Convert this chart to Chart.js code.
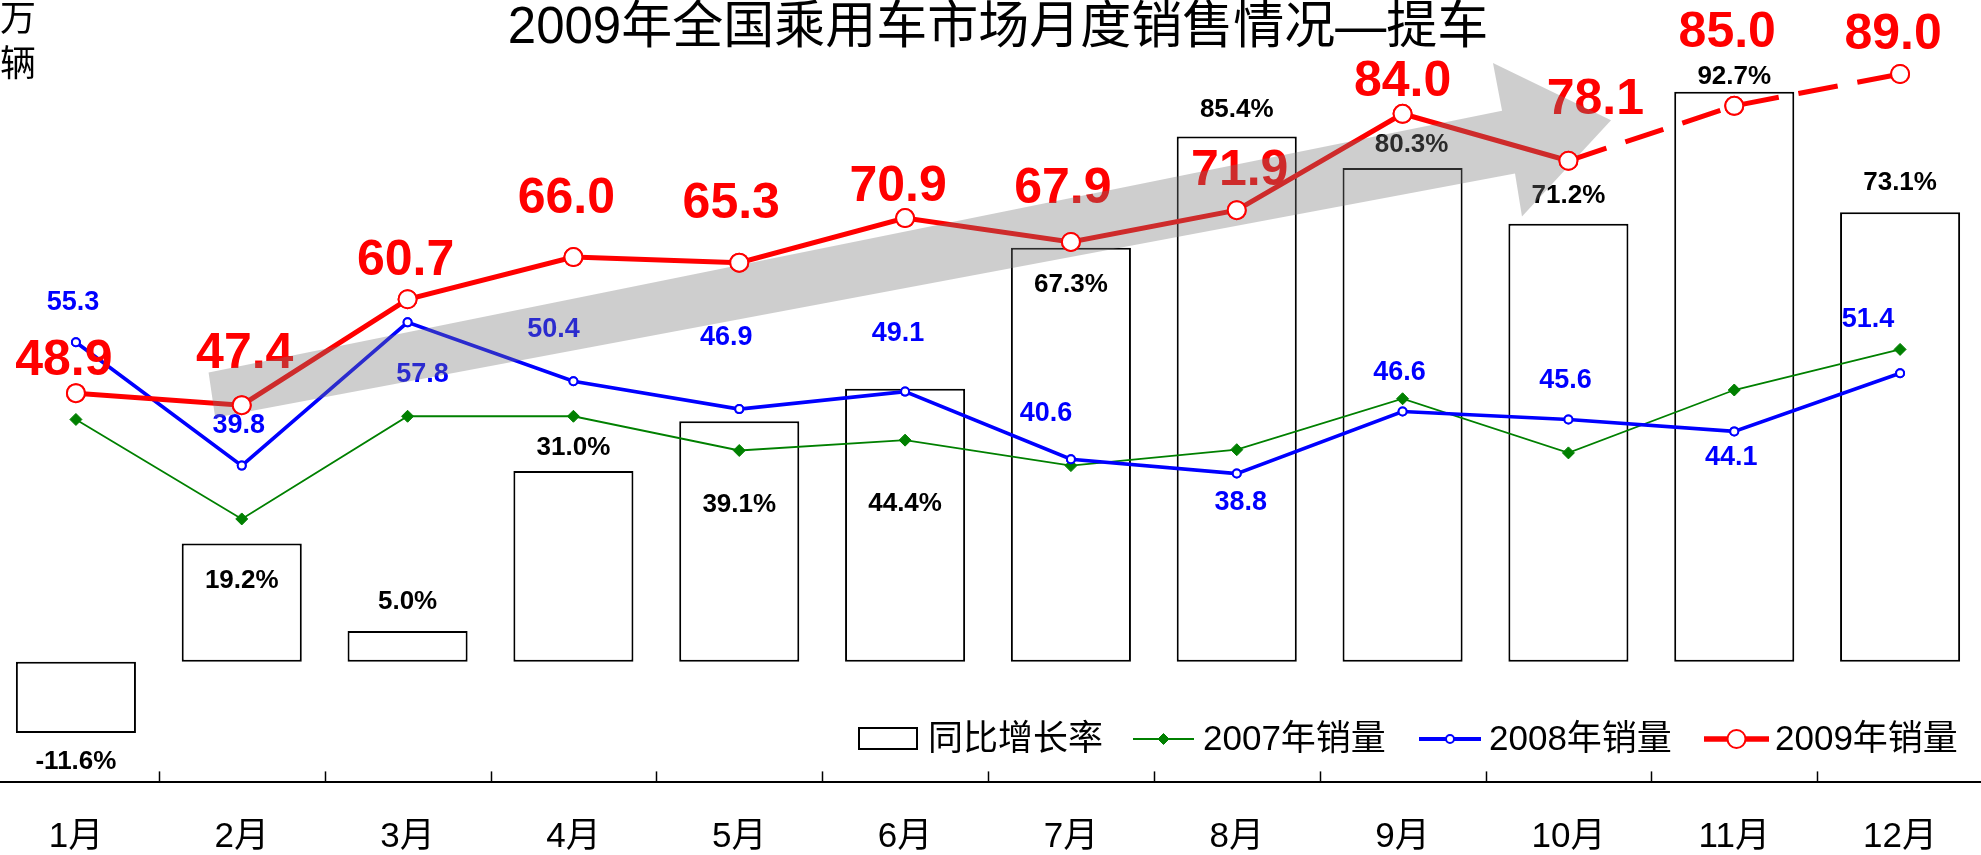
<!DOCTYPE html>
<html>
<head>
<meta charset="utf-8">
<title>2009年全国乘用车市场月度销售情况—提车</title>
<script src="https://cdn.jsdelivr.net/npm/chart.js@4.4.1/dist/chart.umd.min.js"></script>
<style>
  html, body { margin: 0; padding: 0; background: #fff; overflow: hidden; width: 1981px; height: 855px; }
  #chart { position: absolute; left: -7px; top: 0; }
</style>
</head>
<body>
<canvas id="chart" width="1990" height="855"></canvas>
<script>
var months = ['1月', '2月', '3月', '4月', '5月', '6月', '7月', '8月', '9月', '10月', '11月', '12月'];
var growthRate = [-11.6, 19.2, 5.0, 31.0, 39.1, 44.4, 67.3, 85.4, 80.3, 71.2, 92.7, 73.1];
var sales2007 = [45.6, 33.1, 46.0, 46.0, 41.7, 43.0, 39.8, 41.8, 48.2, 41.4, 49.3, 54.4];
var sales2008 = [55.3, 39.8, 57.8, 50.4, 46.9, 49.1, 40.6, 38.8, 46.6, 45.6, 44.1, 51.4];
var sales2009 = [48.9, 47.4, 60.7, 66.0, 65.3, 70.9, 67.9, 71.9, 84.0, 78.1, 85.0, 89.0];
var seriesNames = ['同比增长率', '2007年销量', '2008年销量', '2009年销量'];
var titleText = '2009年全国乘用车市场月度销售情况—提车';
var unitText = ['万', '辆'];

// where each value label sits relative to its mark (px)
var rateLabelDx = [0, 0, 0, 0, 0, 0, 0, 0, 9, 0, 0, 0];
var rateLabelDy = [29, 37, -29, -23, 84, 115, 37, -27, -23, -28, -15, -29];
var label2008Off = [[-3, -40], [-3, -40], [15, 52], [-20, -52], [-13, -72], [-7, -58], [-25, -46], [4, 29], [-3, -39], [-3, -39], [-3, 26], [-32, -54]];
var label2009Off = [[-12, -32], [3, -51], [-2, -38], [-7, -58], [-8, -58], [-7, -31], [-8, -53], [3, -39], [0, -32], [27, -61], [-7, -73], [-7, -39]];

// trend arrow outline in (category index, sales value)
var arrowShape = [[0.80, 51.5], [8.60, 84.4], [8.545, 90.4], [9.257, 83.2], [8.72, 71.1], [8.678, 76.5], [0.84, 45.8]];

var fam = '"Liberation Sans", Arial, "Noto Sans CJK SC", sans-serif';
Chart.defaults.font.family = fam;
Chart.defaults.color = '#000';

var overlay = {
  id: 'overlay',
  afterDatasetsDraw: function (chart) {
    var ctx = chart.ctx;
    var x = chart.scales.x, ys = chart.scales.y;
    var area = chart.chartArea;
    ctx.save();

    // small tick marks between months, pointing up from the axis
    ctx.strokeStyle = '#000';
    ctx.lineWidth = 1.5;
    for (var i = 0; i < months.length - 1; i++) {
      var px = Math.round((x.getPixelForValue(i) + x.getPixelForValue(i + 1)) / 2) + 0.5;
      ctx.beginPath();
      ctx.moveTo(px, area.bottom - 11);
      ctx.lineTo(px, area.bottom);
      ctx.stroke();
    }

    ctx.textAlign = 'center';
    ctx.textBaseline = 'middle';

    ctx.font = 'bold 26px ' + fam;
    ctx.fillStyle = '#000';
    chart.getDatasetMeta(0).data.forEach(function (bar, i) {
      ctx.fillText(growthRate[i].toFixed(1) + '%', bar.x + rateLabelDx[i], bar.y + rateLabelDy[i]);
    });

    ctx.font = 'bold 27px ' + fam;
    ctx.fillStyle = '#0000ff';
    chart.getDatasetMeta(2).data.forEach(function (p, i) {
      ctx.fillText(sales2008[i].toFixed(1), p.x + label2008Off[i][0], p.y + label2008Off[i][1]);
    });

    ctx.font = 'bold 50px ' + fam;
    ctx.fillStyle = '#ff0000';
    chart.getDatasetMeta(3).data.forEach(function (p, i) {
      ctx.fillText(sales2009[i].toFixed(1), p.x + label2009Off[i][0], p.y + label2009Off[i][1]);
    });

    // translucent grey trend arrow
    ctx.beginPath();
    arrowShape.forEach(function (pt, i) {
      var ax = x.getPixelForValue(pt[0]), ay = ys.getPixelForValue(pt[1]);
      if (i === 0) ctx.moveTo(ax, ay); else ctx.lineTo(ax, ay);
    });
    ctx.closePath();
    ctx.fillStyle = 'rgba(120,120,120,0.36)';
    ctx.fill();

    // markers stay on top of the arrow
    [2, 3].forEach(function (d) {
      chart.getDatasetMeta(d).data.forEach(function (p) { p.draw(ctx, area); });
    });

    ctx.restore();
  },
  afterDraw: function (chart) {
    var ctx = chart.ctx;
    ctx.save();
    ctx.fillStyle = '#000';
    ctx.textBaseline = 'middle';
    ctx.textAlign = 'center';
    ctx.font = '51px ' + fam;
    ctx.fillText(titleText, 1005, 29);
    ctx.font = '36px ' + fam;
    ctx.fillText(unitText[0], 25, 21);
    ctx.fillText(unitText[1], 25, 66);

    // legend
    var ly = 739;
    ctx.textAlign = 'left';
    ctx.font = '35px ' + fam;
    ctx.strokeStyle = '#000';
    ctx.lineWidth = 2;
    ctx.fillStyle = '#fff';
    ctx.fillRect(866, 728, 58, 21);
    ctx.strokeRect(866, 728, 58, 21);
    ctx.fillStyle = '#000';
    ctx.fillText(seriesNames[0], 935, ly + 1);

    var items = [
      { x0: 1140, x1: 1201, text: 1210, ds: 1 },
      { x0: 1426, x1: 1488, text: 1496, ds: 2 },
      { x0: 1711, x1: 1776, text: 1782, ds: 3 }
    ];
    items.forEach(function (it) {
      var d = chart.data.datasets[it.ds];
      ctx.strokeStyle = d.borderColor;
      ctx.lineWidth = d.borderWidth + (it.ds === 1 ? 0.4 : 0.5);
      ctx.beginPath();
      ctx.moveTo(it.x0, ly);
      ctx.lineTo(it.x1, ly);
      ctx.stroke();
      ctx.fillStyle = d.pointBackgroundColor;
      ctx.strokeStyle = d.pointBorderColor;
      ctx.lineWidth = d.pointBorderWidth;
      Chart.helpers.drawPoint(ctx, {
        pointStyle: d.pointStyle,
        radius: d.legendRadius,
        borderWidth: d.pointBorderWidth,
        rotation: 0
      }, (it.x0 + it.x1) / 2, ly);
      ctx.fillStyle = '#000';
      ctx.fillText(seriesNames[it.ds], it.text, ly + 1);
    });
    ctx.restore();
  }
};

new Chart(document.getElementById('chart'), {
  type: 'bar',
  data: {
    labels: months,
    datasets: [
      {
        type: 'bar',
        label: seriesNames[0],
        data: growthRate,
        yAxisID: 'yp',
        backgroundColor: '#ffffff',
        borderColor: '#000000',
        borderWidth: 2,
        borderSkipped: false,
        barPercentage: 0.724,
        categoryPercentage: 1,
        order: 4
      },
      {
        type: 'line',
        label: seriesNames[1],
        data: sales2007,
        yAxisID: 'y',
        borderColor: '#008000',
        borderWidth: 1.8,
        pointStyle: 'rectRot',
        pointRadius: 6,
        legendRadius: 5.5,
        pointBackgroundColor: '#008000',
        pointBorderColor: '#008000',
        pointBorderWidth: 1,
        tension: 0,
        order: 3
      },
      {
        type: 'line',
        label: seriesNames[2],
        data: sales2008,
        yAxisID: 'y',
        borderColor: '#0000ff',
        borderWidth: 3.6,
        pointStyle: 'circle',
        pointRadius: 4,
        legendRadius: 4,
        pointBackgroundColor: '#ffffff',
        pointBorderColor: '#0000ff',
        pointBorderWidth: 2,
        tension: 0,
        order: 2
      },
      {
        type: 'line',
        label: seriesNames[3],
        data: sales2009,
        yAxisID: 'y',
        borderColor: '#ff0000',
        borderWidth: 5,
        pointStyle: 'circle',
        pointRadius: 9,
        legendRadius: 9,
        pointBackgroundColor: '#ffffff',
        pointBorderColor: '#ff0000',
        pointBorderWidth: 2,
        tension: 0,
        segment: {
          borderDash: function (c) { return c.p0DataIndex >= 9 ? [40, 20] : undefined; }
        },
        order: 1
      }
    ]
  },
  options: {
    responsive: false,
    animation: false,
    events: [],
    layout: { padding: 0, autoPadding: false },
    plugins: {
      legend: { display: false },
      title: { display: false },
      tooltip: { enabled: false }
    },
    scales: {
      x: {
        offset: true,
        grid: { display: false, drawTicks: false },
        border: { display: true, color: '#000', width: 2 },
        ticks: { font: { size: 35 }, color: '#000', padding: 34, maxRotation: 0 },
        afterFit: function (s) { s.height = 72.6; }
      },
      y: {
        display: false,
        min: 0,
        max: 98.3
      },
      yp: {
        display: false,
        min: -19.63,
        max: 107.6
      }
    }
  },
  plugins: [overlay]
});
</script>
</body>
</html>
